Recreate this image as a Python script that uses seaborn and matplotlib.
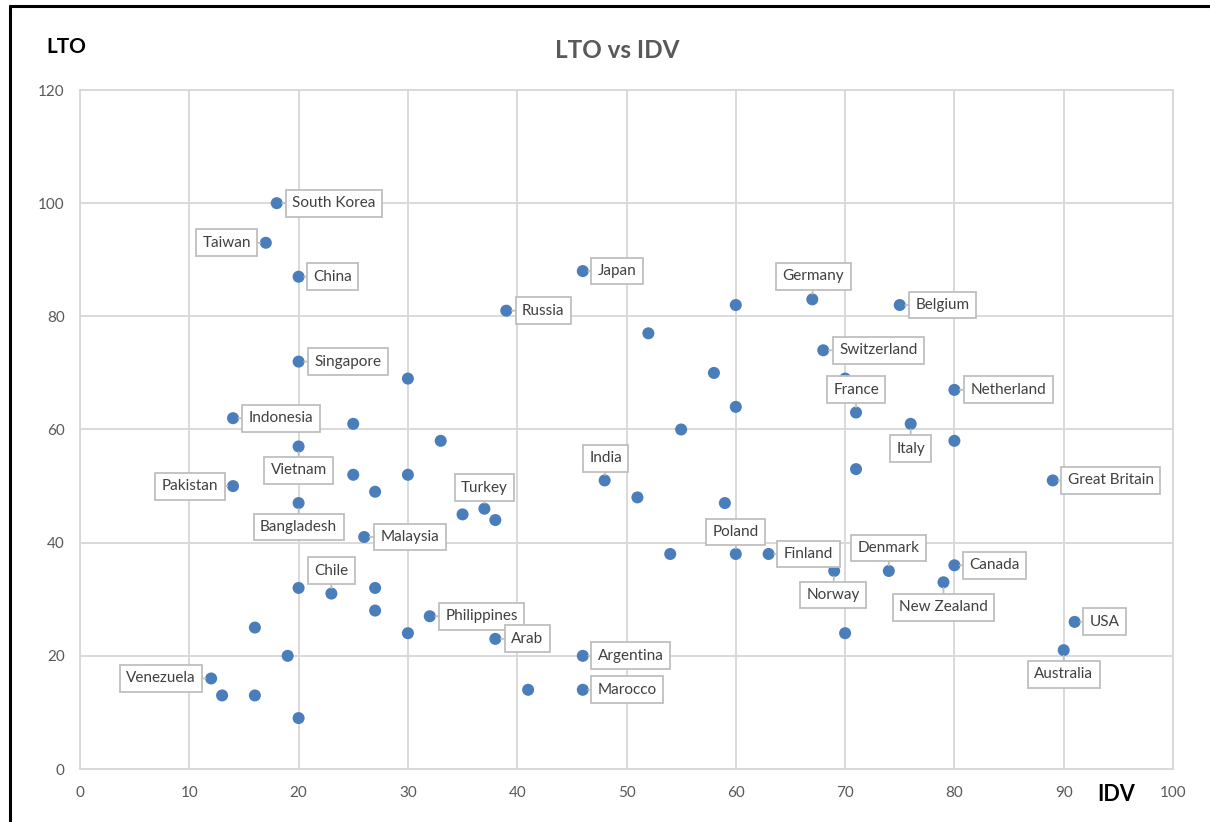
import matplotlib
matplotlib.use("Agg")
import matplotlib.pyplot as plt
import seaborn as sns
import pandas as pd
from matplotlib.lines import Line2D

# ---- data ----
labeled_countries = ["South Korea", "Taiwan", "China", "Japan", "Russia", "Germany", "Belgium",
                     "Singapore", "Switzerland", "France", "Netherland", "Italy", "Great Britain",
                     "Indonesia", "Vietnam", "Pakistan", "Bangladesh", "Malaysia", "India", "Turkey",
                     "Poland", "Finland", "Norway", "Denmark", "Canada", "New Zealand", "USA",
                     "Australia", "Chile", "Philippines", "Arab", "Argentina", "Marocco", "Venezuela"]
labeled_idv = [18, 17, 20, 46, 39, 67, 75, 20, 68, 71, 80, 76, 89, 14, 20, 14, 20, 26, 48, 37,
               60, 63, 69, 74, 80, 79, 91, 90, 23, 32, 38, 46, 46, 12]
labeled_lto = [100, 93, 87, 88, 81, 83, 82, 72, 74, 63, 67, 61, 51, 62, 57, 50, 47, 41, 51, 46,
               38, 38, 35, 35, 36, 33, 26, 21, 31, 27, 23, 20, 14, 16]

other_idv = [30, 25, 33, 25, 30, 27, 35, 38, 20, 27, 27, 30, 16, 19, 13, 16, 20, 41,
             52, 60, 58, 60, 55, 51, 59, 54, 70, 80, 71, 70]
other_lto = [69, 61, 58, 52, 52, 49, 45, 44, 32, 32, 28, 24, 25, 20, 13, 13, 9, 14,
             77, 82, 70, 64, 60, 48, 47, 38, 69, 58, 53, 24]

x_ticks = [0, 10, 20, 30, 40, 50, 60, 70, 80, 90, 100]
y_ticks = [0, 20, 40, 60, 80, 100, 120]

# ---- label offsets (pixels, box centre relative to point) ----
offsets = {
    "South Korea": (57, 0), "Taiwan": (-39, 0), "China": (34, 0), "Japan": (34, 0),
    "Russia": (37, 0), "Germany": (1, 23), "Belgium": (43, 0), "Singapore": (49, 0),
    "Switzerland": (55, 0), "France": (0, 23), "Netherland": (54, 0), "Italy": (0, -25),
    "Great Britain": (58, 0), "Indonesia": (48, 0), "Vietnam": (0, -24), "Pakistan": (-43, 0),
    "Bangladesh": (0, -24), "Malaysia": (46, 0), "India": (1, 22), "Turkey": (0, 21),
    "Poland": (0, 22), "Finland": (40, 0), "Norway": (-1, -24), "Denmark": (0, 23),
    "Canada": (40, 0), "New Zealand": (0, -25), "USA": (30, 0), "Australia": (0, -24),
    "Chile": (0, 23), "Philippines": (52, 0), "Arab": (32, 0), "Argentina": (48, 0),
    "Marocco": (44, 0), "Venezuela": (-50, 0),
}

df = pd.concat([
    pd.DataFrame({"IDV": labeled_idv, "LTO": labeled_lto, "name": labeled_countries}),
    pd.DataFrame({"IDV": other_idv, "LTO": other_lto, "name": [""] * len(other_idv)}),
], ignore_index=True)

sns.set_style("whitegrid")
plt.rcParams["font.family"] = ["Lato", "DejaVu Sans"]

fig = plt.figure(figsize=(12.1, 8.22), dpi=100)
ax = fig.add_axes([80 / 1210, 1 - 769 / 822, (1173 - 80) / 1210, (769 - 90) / 822])

sns.scatterplot(data=df, x="IDV", y="LTO", ax=ax, s=75, color="#4a7ebb",
                edgecolor="none", zorder=3, legend=False)

ax.set_xlim(0, 100)
ax.set_ylim(0, 120)
ax.set_xticks(x_ticks)
ax.set_yticks(y_ticks)
ax.set_xlabel("")
ax.set_ylabel("")
ax.grid(True, color="#d9d9d9", lw=1.4)
for side, sp in ax.spines.items():
    sp.set_visible(True)
    sp.set_color("#d9d9d9")
    sp.set_linewidth(1.4)
ax.tick_params(axis="both", length=0, labelsize=11, labelcolor="#595959")
ax.tick_params(axis="x", pad=12)
ax.tick_params(axis="y", pad=11)

for _, row in df.iterrows():
    if not row["name"]:
        continue
    dx, dy = offsets[row["name"]]
    ax.annotate(row["name"], xy=(row["IDV"], row["LTO"]), xytext=(dx, dy),
                textcoords="offset pixels", ha="center", va="center",
                fontsize=11, color="#404040", zorder=5,
                bbox=dict(boxstyle="square,pad=0.42", fc="white", ec="#bfbfbf", lw=1.3),
                arrowprops=dict(arrowstyle="-", color="#bfbfbf", lw=1.3,
                                shrinkA=0, shrinkB=4))

fig.text(617 / 1210, 1 - 50 / 822, "LTO vs IDV", ha="center", va="center",
         fontsize=17.5, fontweight="bold", color="#595959")
fig.text(66 / 1210, 1 - 47 / 822, "LTO", ha="center", va="center",
         fontsize=15, fontweight="bold", color="black")
fig.text(1116 / 1210, 1 - 794 / 822, "IDV", ha="center", va="center",
         fontsize=15.5, fontweight="bold", color="black")

# screenshot border (left and top)
fig.add_artist(Line2D([10 / 1210, 10 / 1210], [0, 1 - 6 / 822], transform=fig.transFigure,
                      color="black", lw=2.2))
fig.add_artist(Line2D([10 / 1210, 1], [1 - 6 / 822, 1 - 6 / 822], transform=fig.transFigure,
                      color="black", lw=2.2))

fig.savefig("out.png", dpi=100, facecolor="white")
